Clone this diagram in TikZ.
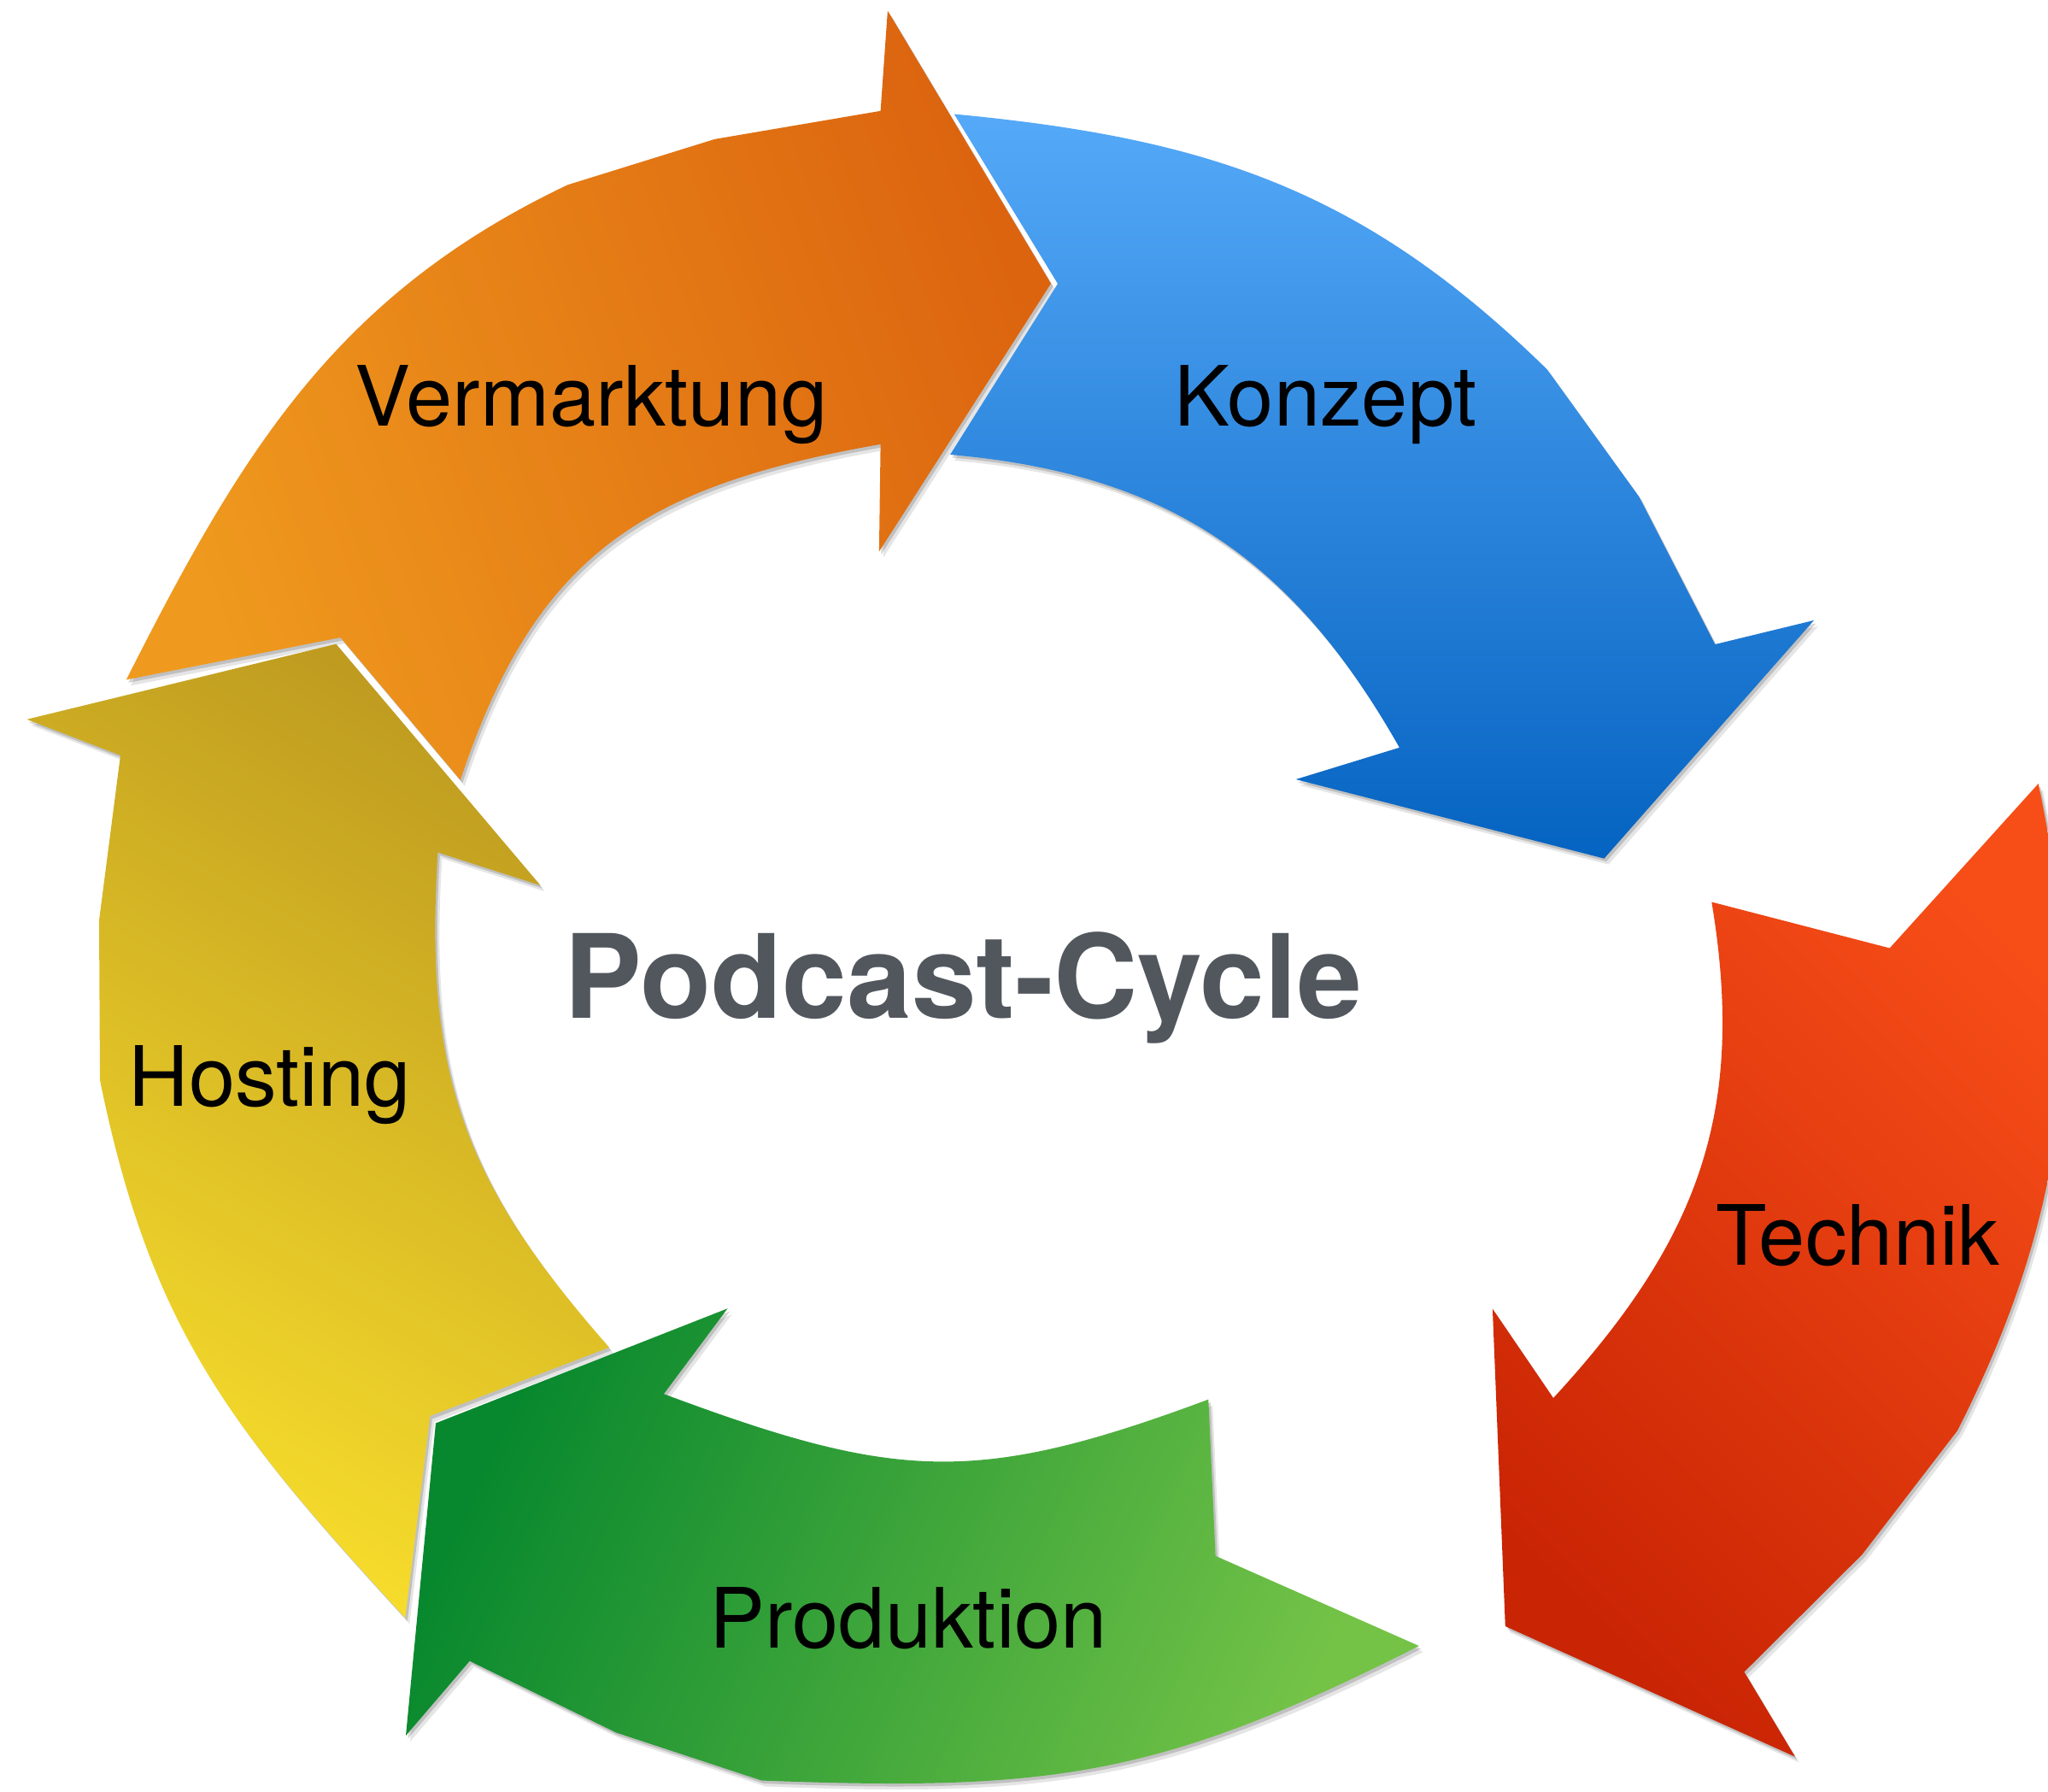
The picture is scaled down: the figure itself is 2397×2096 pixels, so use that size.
\documentclass[tikz,border=0pt]{standalone}
\usepackage{fontspec}
\setmainfont{TeX Gyre Heros}
\definecolor{orL}{HTML}{EF9A1E}
\definecolor{orR}{HTML}{DC640F}
\definecolor{blT}{HTML}{55A9F8}
\definecolor{blB}{HTML}{0563C1}
\definecolor{rdL}{HTML}{C92404}
\definecolor{rdR}{HTML}{F74E18}
\definecolor{grL}{HTML}{08882E}
\definecolor{grR}{HTML}{74C347}
\definecolor{yeL}{HTML}{F9DF2C}
\definecolor{yeR}{HTML}{BF9C20}
\definecolor{titlegray}{HTML}{52575E}
\newcommand\pathOrange{(147.8,795.4) .. controls (283.1,527.8) and (393.6,345) .. (664.5,216.3) -- (836.7,162.8) -- (1030.6,129.8) -- (1038.9,12.6) -- (1230,331.8) -- (1028.9,645.4) -- (1030.6,519.8) .. controls (754.8,568.5) and (627.3,647) .. (538.8,912.7) -- (398.5,746) -- cycle}
\newcommand\pathBlue{(1116.7,133.5) .. controls (1415.4,161.8) and (1596.8,222.6) .. (1811,432.6) -- (1918.3,581.2) -- (2007.3,754) -- (2123,725.9) -- (1877.5,1004.6) -- (1516.7,912) -- (1637.9,874.8) .. controls (1512.2,653) and (1366,554.2) .. (1112,532) -- (1238,332) -- cycle}
\newcommand\pathRed{(2003.3,1055.5) -- (2211.7,1109.5) -- (2385.7,917) .. controls (2445,1200) and (2420,1420) .. (2291,1674) -- (2179.5,1819) -- (2041.4,1956.5) -- (2100.9,2055.6) -- (1761.8,1903) -- (1746.9,1531.6) -- (1818,1636) .. controls (1987.3,1452) and (2044.3,1302) .. (2003.3,1055.5) -- cycle}
\newcommand\pathGreen{(510,1665.4) -- (851.5,1531.2) -- (776.9,1631.2) .. controls (1048.6,1732.4) and (1142.6,1738.8) .. (1414.3,1637.6) -- (1422.6,1820.7) -- (1660.8,1926) .. controls (1357.5,2079.7) and (1230.9,2096.4) .. (891.3,2083.5) -- (721.3,2027.5) -- (549.7,1943.7) -- (475,2031) -- cycle}
\newcommand\pathYellow{(31.5,841.8) -- (393.4,753.6) -- (632.6,1036.1) -- (512.4,997.5) .. controls (496.5,1257) and (541.1,1381.4) .. (713,1576.7) -- (503.3,1657) -- (474.3,1893.3) .. controls (271.5,1672.2) and (177,1558) .. (117,1264) -- (116,1077) -- (141,883.9) -- cycle}
\tikzset{
  shadowA/.style={fill=black,opacity=0.10,shift={(5,7)}},
  shadowB/.style={fill=black,opacity=0.16,shift={(2.5,3.5)}},
  label/.style={anchor=base west,inner sep=0pt,font=\fontsize{27.7}{33}\selectfont,text=black},
  title/.style={anchor=base west,inner sep=0pt,font=\fontsize{38.7}{46}\selectfont\bfseries,text=titlegray}
}
\begin{document}
\begin{tikzpicture}[x=0.01cm,y=-0.01cm]
\useasboundingbox (0,0) rectangle (2397,2096);
\clip (0,0) rectangle (2397,2096);
\fill[white] (0,0) rectangle (2397,2096);
% shadows
\foreach \s in {shadowA,shadowB}{
  \fill[\s] \pathOrange;
  \fill[\s] \pathBlue;
  \fill[\s] \pathRed;
  \fill[\s] \pathGreen;
  \fill[\s] \pathYellow;
}
% arrows
\shade[left color=orL,right color=orR,shading angle=110] \pathOrange;
\shade[top color=blT,bottom color=blB] \pathBlue;
\shade[left color=rdL,right color=rdR,shading angle=135] \pathRed;
\shade[left color=grL,right color=grR,shading angle=65] \pathGreen;
\shade[left color=yeL,right color=yeR,shading angle=150] \pathYellow;
% labels
\node[label] (vermarktung) at (415,498) {Vermarktung};
\node[label] (konzept) at (1374,498) {Konzept};
\node[label] (technik) at (2008,1480) {Technik};
\node[label] (produktion) at (830,1928) {Produktion};
\node[label] (hosting) at (150,1294) {Hosting};
\node[title] (title) at (660,1191) {Podcast-Cycle};
\end{tikzpicture}
\end{document}
